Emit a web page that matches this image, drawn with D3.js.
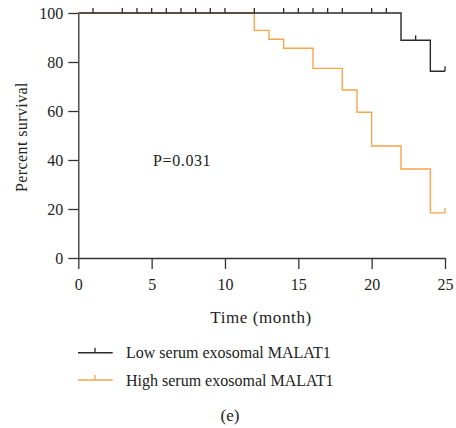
<!DOCTYPE html>
<html>
<head>
<meta charset="utf-8">
<script src="https://cdn.jsdelivr.net/npm/d3@7"></script>
<style>
html,body{margin:0;padding:0;background:#fff;}
svg{display:block;font-family:"Liberation Serif","DejaVu Serif",serif;}
</style>
</head>
<body>
<svg id="chart" width="456" height="428"></svg>
<script>
// Data
const lowTimes = [0, 22, 24, 25];
const lowSurvival = [100, 88.9, 76.2, 76.2];
const lowCensor = [1, 3, 4, 5, 6, 7, 8, 9, 10, 12, 14, 15, 16, 17, 18, 20, 21, 23, 25];
const highTimes = [0, 12, 13, 14, 16, 18, 19, 20, 22, 24, 25];
const highSurvival = [100, 92.9, 89.3, 85.6, 77.4, 68.6, 59.5, 45.7, 36.3, 18.4, 18.4];
const highCensor = [25];
const xTicks = [0, 5, 10, 15, 20, 25];
const yTicks = [0, 20, 40, 60, 80, 100];
const seriesNames = ["Low serum exosomal MALAT1", "High serum exosomal MALAT1"];
const pText = "P=0.031";

const black = "#2a2a2a", orange = "#f9a44a", axisCol = "#333";
const svg = d3.select("#chart");
const x = d3.scaleLinear().domain([0, 25]).range([78.3, 445]);
const y = d3.scaleLinear().domain([0, 100]).range([258, 13]);

// axes
const gx = svg.append("g").attr("transform", `translate(0,${y(0)})`)
  .call(d3.axisBottom(x).tickValues(xTicks).tickSize(11).tickPadding(10).tickSizeOuter(0));
const gy = svg.append("g").attr("transform", `translate(${x(0)},0)`)
  .call(d3.axisLeft(y).tickValues(yTicks).tickSize(10).tickPadding(5).tickSizeOuter(0));
[gx, gy].forEach(g => {
  g.selectAll("path,line").attr("stroke", axisCol).attr("stroke-width", 1.3);
  g.selectAll("text").attr("font-size", 16).attr("fill", "#222").attr("font-family", "Liberation Serif");
});

function km(times, surv) {
  const pts = [];
  times.forEach((t, i) => {
    if (i > 0) pts.push([t, surv[i - 1]]);
    pts.push([t, surv[i]]);
  });
  return pts;
}
function survAt(times, surv, t) {
  let s = surv[0];
  times.forEach((tt, i) => { if (tt <= t) s = surv[i]; });
  return s;
}
const line = d3.line().x(d => x(d[0])).y(d => y(d[1]));

function drawSeries(times, surv, censor, color) {
  svg.append("path").datum(km(times, surv)).attr("d", line)
    .attr("fill", "none").attr("stroke", color).attr("stroke-width", 1.4);
  svg.append("g").selectAll("line").data(censor).join("line")
    .attr("x1", d => x(d)).attr("x2", d => x(d))
    .attr("y1", d => y(survAt(times, surv, d)))
    .attr("y2", d => y(survAt(times, surv, d)) - 5)
    .attr("stroke", color).attr("stroke-width", 1.3);
}
drawSeries(highTimes, highSurvival, highCensor, orange);
drawSeries(lowTimes, lowSurvival, lowCensor, black);

// P value
svg.append("text").attr("x", x(5.1)).attr("y", y(37.5)).attr("font-size", 16)
  .attr("letter-spacing", 0.6).attr("fill", "#222").text(pText);

// axis titles
svg.append("text").attr("x", 261).attr("y", 323).attr("text-anchor", "middle")
  .attr("font-size", 17).attr("letter-spacing", 0.6).attr("fill", "#222").text("Time (month)");
svg.append("text").attr("transform", "translate(27,137) rotate(-90)").attr("text-anchor", "middle")
  .attr("font-size", 16).attr("letter-spacing", 0.4).attr("fill", "#222").text("Percent survival");

// legend
const legY = [352.7, 380];
[black, orange].forEach((c, i) => {
  const g = svg.append("g");
  g.append("line").attr("x1", 78).attr("x2", 112.7).attr("y1", legY[i]).attr("y2", legY[i])
    .attr("stroke", c).attr("stroke-width", 1.5);
  g.append("line").attr("x1", 95).attr("x2", 95).attr("y1", legY[i]).attr("y2", legY[i] - 5)
    .attr("stroke", c).attr("stroke-width", 1.3);
  g.append("text").attr("x", 126).attr("y", legY[i] + 5.5).attr("font-size", 16).attr("fill", "#222")
    .text(seriesNames[i]);
});
svg.append("text").attr("x", 230).attr("y", 421).attr("text-anchor", "middle")
  .attr("font-size", 17).attr("fill", "#222").text("(e)");
</script>
</body>
</html>
